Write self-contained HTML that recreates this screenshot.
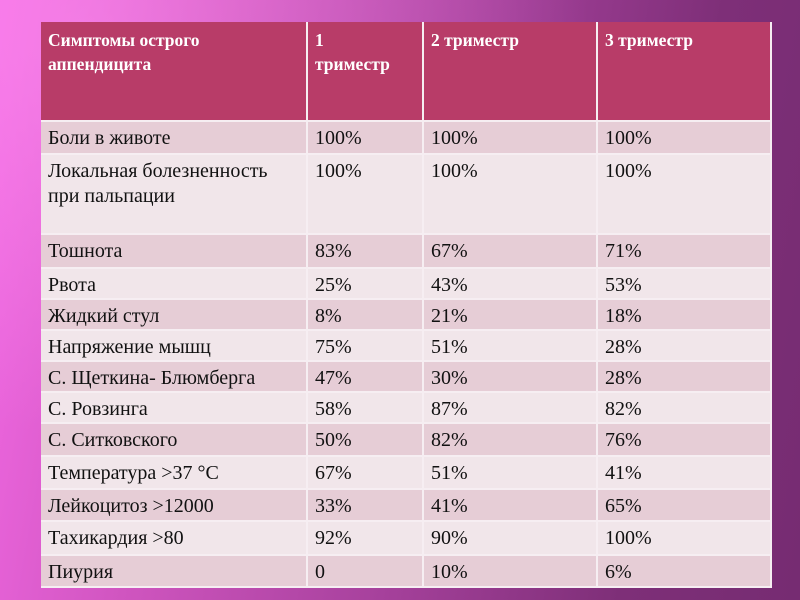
<!DOCTYPE html>
<html><head><meta charset="utf-8"><style>
body{margin:0;width:800px;height:600px;overflow:hidden;position:relative;font-family:"Liberation Serif",serif;
background:linear-gradient(100deg,#f46ae6 0%,#d055c0 25%,#a4409a 55%,#7e2f78 80%,#762c72 100%);}
.bg2{position:absolute;left:0;top:0;width:800px;height:600px;background:radial-gradient(ellipse at 10% 5%,rgba(255,150,240,.5),rgba(255,150,240,0) 50%);}
.c{position:absolute;box-sizing:border-box;padding:4px 7px;font-size:20px;color:#111;line-height:25px;border-right:2px solid #f6eef2;border-bottom:2px solid #f6eef2;}
.h{background:#b83c68;color:#fff;font-weight:bold;font-size:17.5px;line-height:24px;padding-top:6px}
.o{background:#e6cdd6}.e{background:#f1e6ea}
</style></head><body>
<div class="bg2"></div>
<div id="t"></div>
<script>
const cols=[41,308,424,598,772];
const rowsY=[22,122,155,235,269,300,331,362,393,424,457,490,522,556,588];
const header=["Симптомы острого<br>аппендицита","1<br>триместр","2 триместр","3 триместр"];
const data=[
["Боли в животе","100%","100%","100%"],
["Локальная болезненность<br>при пальпации","100%","100%","100%"],
["Тошнота","83%","67%","71%"],
["Рвота","25%","43%","53%"],
["Жидкий стул","8%","21%","18%"],
["Напряжение мышц","75%","51%","28%"],
["С. Щеткина- Блюмберга","47%","30%","28%"],
["С. Ровзинга","58%","87%","82%"],
["С. Ситковского","50%","82%","76%"],
["Температура >37 °C","67%","51%","41%"],
["Лейкоцитоз >12000","33%","41%","65%"],
["Тахикардия >80","92%","90%","100%"],
["Пиурия","0","10%","6%"]];
const t=document.getElementById('t');
function cell(r,c,html,cls){
 const d=document.createElement('div');
 d.className='c '+cls;
 
 
 d.style.left=cols[c]+'px';d.style.top=rowsY[r]+'px';
 d.style.width=(cols[c+1]-cols[c])+'px';d.style.height=(rowsY[r+1]-rowsY[r])+'px';
 d.innerHTML=html;t.appendChild(d);
}
header.forEach((h,c)=>cell(0,c,h,'h'));
data.forEach((row,i)=>row.forEach((v,c)=>cell(i+1,c,v,i%2===0?'o':'e')));
</script>
</body></html>
